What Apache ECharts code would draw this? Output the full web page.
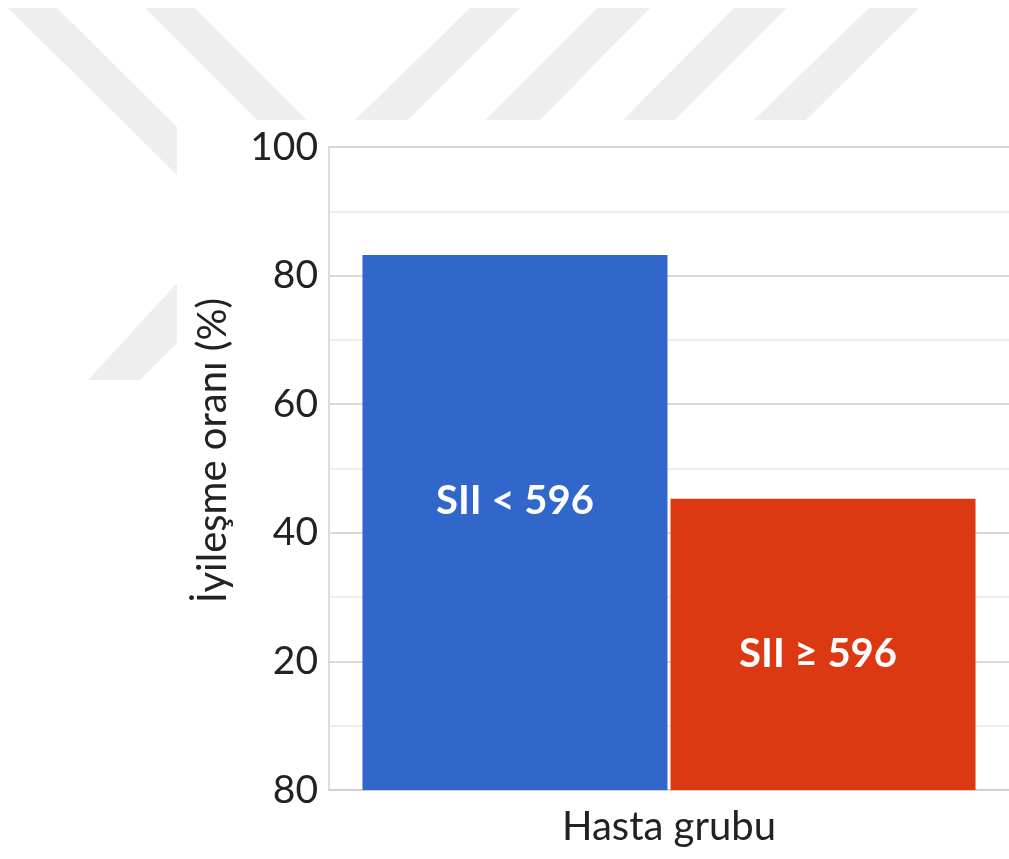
<!DOCTYPE html>
<html>
<head>
<meta charset="utf-8">
<script src="https://cdn.jsdelivr.net/npm/echarts@6/dist/echarts.min.js"></script>
<style>
  html, body { margin: 0; padding: 0; background: #fff; }
  #chart { width: 1009px; height: 859px; }
</style>
</head>
<body>
<div id="chart"></div>
<script>
// values
const categories = ['Hasta grubu']
const seriesNames = ['SII < 596', 'SII ≥ 596']
const lowSII = [83.2]
const highSII = [45.3]
// the bottom tick really says 80 in the source picture
const yTickLabels = ['80', '20', '40', '60', '80', '100']

const chart = echarts.init(document.getElementById('chart'))

// light grey stripes of the watermark behind the chart
const stripe = (points) => ({
  type: 'polygon',
  silent: true,
  z: -10,
  shape: { points },
  style: { fill: '#eeeeee' }
})

const option = {
  backgroundColor: '#fff',
  animation: false,
  textStyle: { fontFamily: 'Lato' },
  graphic: [
    stripe([[8, 8], [57, 8], [177, 127], [177, 175]]),
    stripe([[145, 8], [195, 8], [307, 120], [257, 120]]),
    stripe([[470, 8], [520, 8], [408, 120], [355, 120]]),
    stripe([[597, 8], [650, 8], [540, 120], [485, 120]]),
    stripe([[734, 8], [787, 8], [675, 120], [623, 120]]),
    stripe([[869, 8], [919, 8], [806, 120], [754, 120]]),
    stripe([[177, 283], [177, 343], [140, 380], [88, 380]])
  ],
  grid: {
    left: 329,
    right: 0,
    top: 147,
    bottom: 69
  },
  xAxis: {
    type: 'category',
    data: categories,
    axisLine: { lineStyle: { color: '#d0d0d0', width: 2 } },
    axisTick: { show: false },
    axisLabel: { color: '#222', fontSize: 40, margin: 17 }
  },
  yAxis: {
    type: 'value',
    min: 0,
    max: 100,
    interval: 20,
    name: 'İyileşme oranı (%)',
    nameLocation: 'middle',
    nameGap: 96,
    nameTextStyle: { color: '#222', fontSize: 40, padding: [0, 0, 0, 36] },
    axisLine: { show: true, lineStyle: { color: '#dcdcdc', width: 2 } },
    axisTick: { show: false },
    axisLabel: {
      color: '#222',
      fontSize: 39,
      margin: 11,
      formatter: (v) => yTickLabels[Math.round(v / 20)]
    },
    splitLine: { lineStyle: { color: '#d9d9d9', width: 2 } },
    minorTick: { show: false, splitNumber: 2 },
    minorSplitLine: { show: true, lineStyle: { color: '#e9e9e9', width: 1.5 } }
  },
  series: [
    {
      name: seriesNames[0],
      type: 'bar',
      data: lowSII,
      barWidth: 305,
      barGap: '1%',
      itemStyle: { color: '#3166cb' },
      label: {
        show: true,
        position: 'inside',
        offset: [0, -21],
        formatter: '{a}',
        color: '#fff',
        fontWeight: 'bold',
        fontSize: 40
      }
    },
    {
      name: seriesNames[1],
      type: 'bar',
      data: highSII,
      barWidth: 305,
      barGap: '1%',
      itemStyle: { color: '#dc3812' },
      label: {
        show: true,
        position: 'inside',
        offset: [-5, 10],
        formatter: '{a}',
        color: '#fff',
        fontWeight: 'bold',
        fontSize: 40
      }
    }
  ]
}

chart.setOption(option)
window.addEventListener('resize', () => chart.resize())
</script>
</body>
</html>
